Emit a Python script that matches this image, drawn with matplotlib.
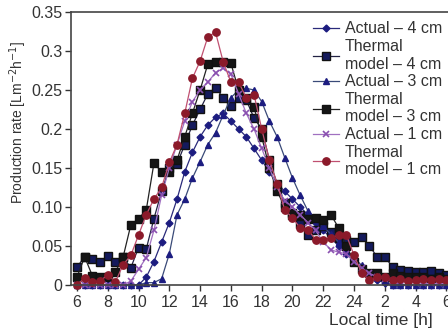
import matplotlib
matplotlib.use("Agg")
import matplotlib.pyplot as plt

plt.rcParams['font.family'] = ['Liberation Sans', 'DejaVu Sans']

hours = [6, 6.5, 7, 7.5, 8, 8.5, 9, 9.5, 10, 10.5, 11, 11.5, 12, 12.5, 13, 13.5,
         14, 14.5, 15, 15.5, 16, 16.5, 17, 17.5, 18, 18.5, 19, 19.5, 20, 20.5,
         21, 21.5, 22, 22.5, 23, 23.5, 24, 24.5, 25, 25.5, 26, 26.5, 27, 27.5,
         28, 28.5, 29, 29.5, 30]

actual_4 = [0, 0, 0, 0, 0, 0, 0, 0,
            0.0, 0.01, 0.03, 0.055, 0.08, 0.11, 0.145, 0.17, 0.19, 0.205, 0.215, 0.22,
            0.21, 0.2, 0.19, 0.175, 0.16, 0.145, 0.13, 0.12, 0.11, 0.1, 0.09, 0.08,
            0.07, 0.06, 0.05, 0.04, 0.03, 0.02, 0.012, 0.006, 0.003,
            0, 0, 0, 0, 0, 0, 0, 0]

thermal_4 = [0.023, 0.036, 0.033, 0.03, 0.037, 0.03, 0.036, 0.022,
             0.048, 0.046, 0.085, 0.12, 0.15, 0.155, 0.18, 0.205, 0.225, 0.245, 0.253, 0.24,
             0.23, 0.24, 0.237, 0.214, 0.2, 0.16, 0.13, 0.105, 0.09, 0.078, 0.064, 0.07,
             0.075, 0.068, 0.06, 0.058, 0.055, 0.062, 0.05, 0.036, 0.036, 0.023, 0.019, 0.018,
             0.017, 0.017, 0.018, 0.016, 0.013]

actual_3 = [0, 0, 0, 0, 0, 0, 0, 0,
            0, 0.003, 0.003, 0.008, 0.04, 0.09, 0.11, 0.137, 0.158, 0.18, 0.195, 0.218,
            0.24, 0.25, 0.252, 0.25, 0.235, 0.21, 0.19, 0.163, 0.137, 0.115, 0.095, 0.085,
            0.075, 0.065, 0.055, 0.045, 0.035, 0.025, 0.015, 0.01, 0.005,
            0, 0, 0, 0, 0, 0, 0, 0]

thermal_3 = [0.01, 0.036, 0.012, 0.01, 0.01, 0.017, 0.036, 0.077,
             0.085, 0.096, 0.156, 0.145, 0.145, 0.16, 0.19, 0.22, 0.25, 0.283, 0.286, 0.286,
             0.284, 0.25, 0.24, 0.228, 0.19, 0.15, 0.12, 0.1, 0.092, 0.09, 0.085, 0.086,
             0.083, 0.09, 0.073, 0.05, 0.03, 0.02, 0.015, 0.015, 0.01, 0.015, 0.012, 0.01,
             0.01, 0.01, 0.008, 0.01, 0.008]

actual_1 = [0, 0, 0, 0, 0, 0, 0, 0.005,
            0.02, 0.035, 0.07, 0.115, 0.15, 0.18, 0.21, 0.235, 0.25, 0.26, 0.272, 0.278,
            0.27, 0.245, 0.22, 0.2, 0.175, 0.15, 0.125, 0.108, 0.1, 0.09, 0.08, 0.07,
            0.055, 0.045, 0.042, 0.04, 0.03, 0.022, 0.015, 0.01, 0.008, 0.005, 0.005, 0.003,
            0.003, 0.002, 0.002, 0.002, 0.002]

thermal_1 = [0.0, 0.009, 0.004, 0.005, 0.013, 0.004, 0.026, 0.038,
             0.064, 0.09, 0.11, 0.125, 0.157, 0.18, 0.22, 0.265, 0.287, 0.318, 0.324, 0.286,
             0.26, 0.26, 0.24, 0.244, 0.2, 0.16, 0.13, 0.096, 0.086, 0.073, 0.071, 0.058,
             0.058, 0.06, 0.064, 0.064, 0.038, 0.015, 0.006, 0.01, 0.01, 0.006, 0.008, 0.005,
             0.006, 0.008, 0.006, 0.008, 0.006]

labels = ["Actual \u2013 4 cm", "Thermal\nmodel \u2013 4 cm", "Actual \u2013 3 cm",
          "Thermal\nmodel \u2013 3 cm", "Actual \u2013 1 cm", "Thermal\nmodel \u2013 1 cm"]

xtick_pos = [6, 8, 10, 12, 14, 16, 18, 20, 22, 24, 26, 28, 30]
xtick_labels = ["6", "8", "10", "12", "14", "16", "18", "20", "22", "24", "2", "4", "6"]
ytick_pos = [0, 0.05, 0.10, 0.15, 0.2, 0.25, 0.3, 0.35]
ytick_labels = ["0", "0.05", "0.10", "0.15", "0.2", "0.25", "0.3", "0.35"]

fig = plt.figure(figsize=(4.48, 3.31), dpi=100)
ax = fig.add_axes([0.158, 0.139, 0.842, 0.825])

styles = [
    dict(color="#2a2a7a", marker="D", markersize=3.5, mfc="#1c1c80", mec="#1c1c80", lw=0.9),
    dict(color="#222244", marker="s", markersize=5.3, mfc="#141a5c", mec="#111111", lw=0.9),
    dict(color="#3a4a78", marker="^", markersize=4.8, mfc="#1c1c80", mec="#1c1c80", lw=0.9),
    dict(color="#222222", marker="s", markersize=5.3, mfc="#151515", mec="#111111", lw=0.9),
    dict(color="#a070c0", marker="x", markersize=4.5, mfc="#8a50b0", mec="#8a50b0", lw=0.9, mew=1.2),
    dict(color="#c05070", marker="o", markersize=5.3, mfc="#8b1a2a", mec="#8b1a2a", lw=0.9),
]

series = [actual_4, thermal_4, actual_3, thermal_3, actual_1, thermal_1]
for vals, lab, st in zip(series, labels, styles):
    ax.plot(hours, vals, label=lab, clip_on=False, **st)

ax.set_xlim(5.6, 30.1)
ax.set_ylim(0, 0.35)
ax.set_xticks(xtick_pos)
ax.set_xticklabels(xtick_labels)
ax.set_yticks(ytick_pos)
ax.set_yticklabels(ytick_labels)
ax.tick_params(axis="both", direction="out", length=4, width=1, labelsize=11.5, colors="#333333")
ax.tick_params(axis="y", pad=2)
for s in ["left", "bottom", "top"]:
    ax.spines[s].set_color("#444444")
    ax.spines[s].set_linewidth(1.2)
ax.spines["right"].set_visible(False)

fig.text(0.965, 0.033, "Local time [h]", ha="right", va="center", fontsize=12.5, color="#333333")
fig.text(0.04, 0.63, r"Production rate [Lm$^{-2}$h$^{-1}$]", rotation=90, ha="center",
         va="center", fontsize=10, color="#333333")

leg = ax.legend(loc="upper right", bbox_to_anchor=(1.01, 1.0), frameon=False, fontsize=11.5,
                handlelength=1.6, handletextpad=0.4, labelspacing=0.17, borderaxespad=0.2)
for t in leg.get_texts():
    t.set_color("#333333")

fig.savefig("out.png", dpi=100)
